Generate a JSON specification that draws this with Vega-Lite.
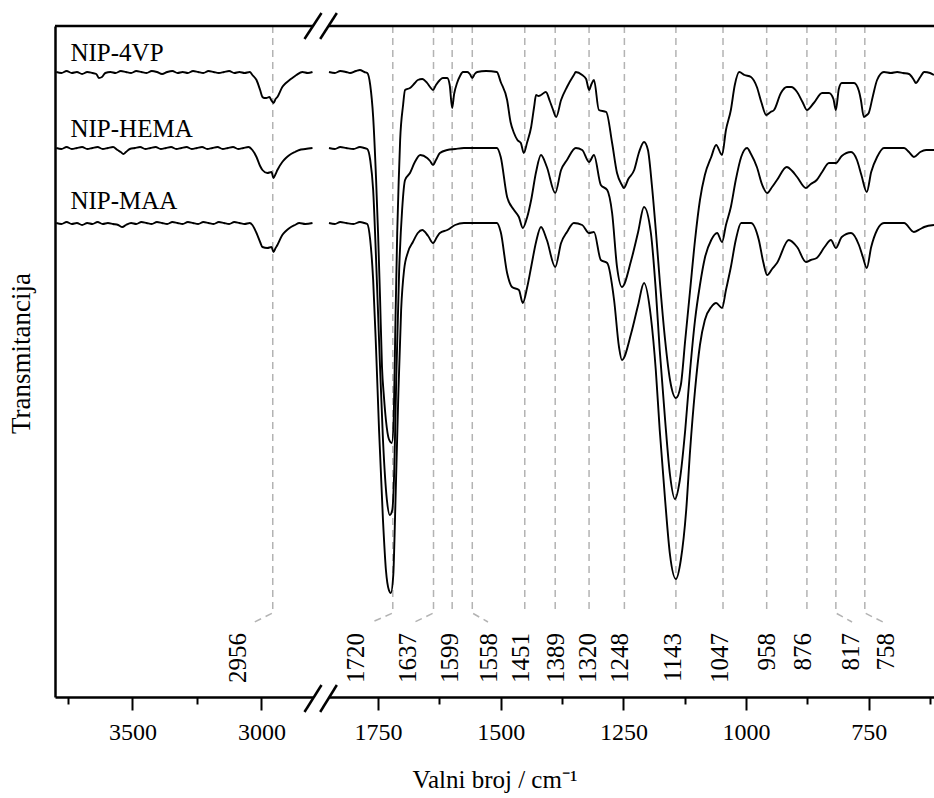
{
  "$schema": "https://vega.github.io/schema/vega-lite/v6.json",
  "width": 879,
  "height": 671,
  "autosize": {"type": "none"},
  "padding": {"left": 55, "top": 26, "right": 0, "bottom": 101},
  "config": {"view": {"stroke": null}, "font": "Liberation Serif", "background": "white"},
  "datasets": {
    "left": [
      {"s":"NIP-4VP","w":3795,"v":625},{"s":"NIP-4VP","w":3775,"v":624},{"s":"NIP-4VP","w":3755,"v":626},{"s":"NIP-4VP","w":3735,"v":624},{"s":"NIP-4VP","w":3715,"v":625},{"s":"NIP-4VP","w":3695,"v":623},{"s":"NIP-4VP","w":3675,"v":625},{"s":"NIP-4VP","w":3655,"v":624},{"s":"NIP-4VP","w":3640,"v":623},{"s":"NIP-4VP","w":3630,"v":619},{"s":"NIP-4VP","w":3618,"v":620},{"s":"NIP-4VP","w":3605,"v":624},{"s":"NIP-4VP","w":3585,"v":625},{"s":"NIP-4VP","w":3565,"v":624},{"s":"NIP-4VP","w":3545,"v":626},{"s":"NIP-4VP","w":3525,"v":625},{"s":"NIP-4VP","w":3505,"v":624},{"s":"NIP-4VP","w":3485,"v":626},{"s":"NIP-4VP","w":3465,"v":625},{"s":"NIP-4VP","w":3445,"v":624},{"s":"NIP-4VP","w":3425,"v":626},{"s":"NIP-4VP","w":3405,"v":625},{"s":"NIP-4VP","w":3385,"v":623},{"s":"NIP-4VP","w":3365,"v":625},{"s":"NIP-4VP","w":3345,"v":626},{"s":"NIP-4VP","w":3325,"v":624},{"s":"NIP-4VP","w":3305,"v":625},{"s":"NIP-4VP","w":3285,"v":624},{"s":"NIP-4VP","w":3265,"v":626},{"s":"NIP-4VP","w":3245,"v":625},{"s":"NIP-4VP","w":3225,"v":624},{"s":"NIP-4VP","w":3205,"v":626},{"s":"NIP-4VP","w":3185,"v":625},{"s":"NIP-4VP","w":3165,"v":624},{"s":"NIP-4VP","w":3145,"v":625},{"s":"NIP-4VP","w":3125,"v":626},{"s":"NIP-4VP","w":3105,"v":624},{"s":"NIP-4VP","w":3085,"v":625},{"s":"NIP-4VP","w":3065,"v":624},{"s":"NIP-4VP","w":3045,"v":625},{"s":"NIP-4VP","w":3035,"v":622},{"s":"NIP-4VP","w":3019,"v":617},{"s":"NIP-4VP","w":3005,"v":607},{"s":"NIP-4VP","w":2996,"v":600},{"s":"NIP-4VP","w":2988,"v":599},{"s":"NIP-4VP","w":2981,"v":599},{"s":"NIP-4VP","w":2969,"v":600},{"s":"NIP-4VP","w":2962,"v":597},{"s":"NIP-4VP","w":2953,"v":594},{"s":"NIP-4VP","w":2945,"v":598},{"s":"NIP-4VP","w":2938,"v":600},{"s":"NIP-4VP","w":2919,"v":610},{"s":"NIP-4VP","w":2905,"v":614},{"s":"NIP-4VP","w":2891,"v":617},{"s":"NIP-4VP","w":2875,"v":620},{"s":"NIP-4VP","w":2864,"v":622},{"s":"NIP-4VP","w":2841,"v":625},{"s":"NIP-4VP","w":2820,"v":624},{"s":"NIP-4VP","w":2802,"v":625},
      {"s":"NIP-HEMA","w":3795,"v":549},{"s":"NIP-HEMA","w":3775,"v":548},{"s":"NIP-HEMA","w":3755,"v":550},{"s":"NIP-HEMA","w":3735,"v":548},{"s":"NIP-HEMA","w":3715,"v":549},{"s":"NIP-HEMA","w":3695,"v":550},{"s":"NIP-HEMA","w":3675,"v":548},{"s":"NIP-HEMA","w":3655,"v":549},{"s":"NIP-HEMA","w":3635,"v":550},{"s":"NIP-HEMA","w":3615,"v":548},{"s":"NIP-HEMA","w":3595,"v":549},{"s":"NIP-HEMA","w":3575,"v":550},{"s":"NIP-HEMA","w":3558,"v":547},{"s":"NIP-HEMA","w":3545,"v":545},{"s":"NIP-HEMA","w":3535,"v":543},{"s":"NIP-HEMA","w":3525,"v":545},{"s":"NIP-HEMA","w":3510,"v":548},{"s":"NIP-HEMA","w":3490,"v":549},{"s":"NIP-HEMA","w":3470,"v":550},{"s":"NIP-HEMA","w":3450,"v":548},{"s":"NIP-HEMA","w":3430,"v":549},{"s":"NIP-HEMA","w":3410,"v":550},{"s":"NIP-HEMA","w":3390,"v":548},{"s":"NIP-HEMA","w":3370,"v":549},{"s":"NIP-HEMA","w":3350,"v":550},{"s":"NIP-HEMA","w":3330,"v":548},{"s":"NIP-HEMA","w":3310,"v":549},{"s":"NIP-HEMA","w":3290,"v":550},{"s":"NIP-HEMA","w":3270,"v":548},{"s":"NIP-HEMA","w":3250,"v":549},{"s":"NIP-HEMA","w":3230,"v":550},{"s":"NIP-HEMA","w":3210,"v":548},{"s":"NIP-HEMA","w":3190,"v":549},{"s":"NIP-HEMA","w":3170,"v":550},{"s":"NIP-HEMA","w":3150,"v":548},{"s":"NIP-HEMA","w":3130,"v":549},{"s":"NIP-HEMA","w":3110,"v":550},{"s":"NIP-HEMA","w":3090,"v":548},{"s":"NIP-HEMA","w":3070,"v":549},{"s":"NIP-HEMA","w":3050,"v":550},{"s":"NIP-HEMA","w":3035,"v":547},{"s":"NIP-HEMA","w":3019,"v":540},{"s":"NIP-HEMA","w":3005,"v":531},{"s":"NIP-HEMA","w":2996,"v":527},{"s":"NIP-HEMA","w":2977,"v":524},{"s":"NIP-HEMA","w":2961,"v":525},{"s":"NIP-HEMA","w":2953,"v":519},{"s":"NIP-HEMA","w":2945,"v":523},{"s":"NIP-HEMA","w":2938,"v":527},{"s":"NIP-HEMA","w":2919,"v":535},{"s":"NIP-HEMA","w":2905,"v":539},{"s":"NIP-HEMA","w":2891,"v":542},{"s":"NIP-HEMA","w":2870,"v":545},{"s":"NIP-HEMA","w":2853,"v":547},{"s":"NIP-HEMA","w":2830,"v":548},{"s":"NIP-HEMA","w":2802,"v":549},
      {"s":"NIP-MAA","w":3795,"v":474},{"s":"NIP-MAA","w":3775,"v":473},{"s":"NIP-MAA","w":3755,"v":475},{"s":"NIP-MAA","w":3735,"v":473},{"s":"NIP-MAA","w":3715,"v":474},{"s":"NIP-MAA","w":3695,"v":472},{"s":"NIP-MAA","w":3675,"v":474},{"s":"NIP-MAA","w":3655,"v":473},{"s":"NIP-MAA","w":3635,"v":475},{"s":"NIP-MAA","w":3615,"v":473},{"s":"NIP-MAA","w":3595,"v":474},{"s":"NIP-MAA","w":3575,"v":473},{"s":"NIP-MAA","w":3555,"v":472},{"s":"NIP-MAA","w":3539,"v":470},{"s":"NIP-MAA","w":3525,"v":472},{"s":"NIP-MAA","w":3505,"v":474},{"s":"NIP-MAA","w":3485,"v":473},{"s":"NIP-MAA","w":3465,"v":475},{"s":"NIP-MAA","w":3445,"v":474},{"s":"NIP-MAA","w":3425,"v":473},{"s":"NIP-MAA","w":3405,"v":475},{"s":"NIP-MAA","w":3385,"v":474},{"s":"NIP-MAA","w":3365,"v":473},{"s":"NIP-MAA","w":3345,"v":475},{"s":"NIP-MAA","w":3325,"v":474},{"s":"NIP-MAA","w":3305,"v":473},{"s":"NIP-MAA","w":3285,"v":475},{"s":"NIP-MAA","w":3265,"v":474},{"s":"NIP-MAA","w":3245,"v":473},{"s":"NIP-MAA","w":3225,"v":475},{"s":"NIP-MAA","w":3205,"v":474},{"s":"NIP-MAA","w":3185,"v":473},{"s":"NIP-MAA","w":3165,"v":475},{"s":"NIP-MAA","w":3145,"v":474},{"s":"NIP-MAA","w":3125,"v":473},{"s":"NIP-MAA","w":3105,"v":475},{"s":"NIP-MAA","w":3085,"v":474},{"s":"NIP-MAA","w":3065,"v":473},{"s":"NIP-MAA","w":3045,"v":474},{"s":"NIP-MAA","w":3035,"v":472},{"s":"NIP-MAA","w":3019,"v":464},{"s":"NIP-MAA","w":3005,"v":455},{"s":"NIP-MAA","w":2996,"v":450},{"s":"NIP-MAA","w":2977,"v":449},{"s":"NIP-MAA","w":2961,"v":450},{"s":"NIP-MAA","w":2953,"v":445},{"s":"NIP-MAA","w":2945,"v":449},{"s":"NIP-MAA","w":2938,"v":452},{"s":"NIP-MAA","w":2919,"v":462},{"s":"NIP-MAA","w":2905,"v":466},{"s":"NIP-MAA","w":2891,"v":469},{"s":"NIP-MAA","w":2870,"v":472},{"s":"NIP-MAA","w":2853,"v":474},{"s":"NIP-MAA","w":2830,"v":473},{"s":"NIP-MAA","w":2802,"v":474}
    ],
    "right": [
      {"s":"NIP-4VP","w":1850,"v":625},{"s":"NIP-4VP","w":1838,"v":624},{"s":"NIP-4VP","w":1827,"v":626},{"s":"NIP-4VP","w":1815,"v":625},{"s":"NIP-4VP","w":1807,"v":624},{"s":"NIP-4VP","w":1795,"v":626},{"s":"NIP-4VP","w":1787,"v":627},{"s":"NIP-4VP","w":1778,"v":625},{"s":"NIP-4VP","w":1772,"v":624},{"s":"NIP-4VP","w":1766,"v":612},{"s":"NIP-4VP","w":1760,"v":580},{"s":"NIP-4VP","w":1754,"v":517},{"s":"NIP-4VP","w":1750,"v":464},{"s":"NIP-4VP","w":1746,"v":400},{"s":"NIP-4VP","w":1742,"v":330},{"s":"NIP-4VP","w":1738,"v":300},{"s":"NIP-4VP","w":1734,"v":277},{"s":"NIP-4VP","w":1728,"v":258},{"s":"NIP-4VP","w":1722,"v":254},{"s":"NIP-4VP","w":1718,"v":280},{"s":"NIP-4VP","w":1715,"v":364},{"s":"NIP-4VP","w":1711,"v":464},{"s":"NIP-4VP","w":1708,"v":515},{"s":"NIP-4VP","w":1705,"v":557},{"s":"NIP-4VP","w":1699,"v":592},{"s":"NIP-4VP","w":1695,"v":607},{"s":"NIP-4VP","w":1685,"v":609},{"s":"NIP-4VP","w":1675,"v":614},{"s":"NIP-4VP","w":1669,"v":617},{"s":"NIP-4VP","w":1660,"v":618},{"s":"NIP-4VP","w":1650,"v":614},{"s":"NIP-4VP","w":1644,"v":610},{"s":"NIP-4VP","w":1638,"v":607},{"s":"NIP-4VP","w":1632,"v":612},{"s":"NIP-4VP","w":1624,"v":617},{"s":"NIP-4VP","w":1618,"v":619},{"s":"NIP-4VP","w":1609,"v":619},{"s":"NIP-4VP","w":1604,"v":612},{"s":"NIP-4VP","w":1599,"v":589},{"s":"NIP-4VP","w":1595,"v":603},{"s":"NIP-4VP","w":1589,"v":614},{"s":"NIP-4VP","w":1583,"v":621},{"s":"NIP-4VP","w":1577,"v":625},{"s":"NIP-4VP","w":1568,"v":625},{"s":"NIP-4VP","w":1563,"v":623},{"s":"NIP-4VP","w":1558,"v":619},{"s":"NIP-4VP","w":1553,"v":623},{"s":"NIP-4VP","w":1548,"v":625},{"s":"NIP-4VP","w":1530,"v":626},{"s":"NIP-4VP","w":1508,"v":625},{"s":"NIP-4VP","w":1500,"v":615},{"s":"NIP-4VP","w":1487,"v":597},{"s":"NIP-4VP","w":1480,"v":575},{"s":"NIP-4VP","w":1473,"v":564},{"s":"NIP-4VP","w":1466,"v":557},{"s":"NIP-4VP","w":1459,"v":554},{"s":"NIP-4VP","w":1453,"v":544},{"s":"NIP-4VP","w":1446,"v":555},{"s":"NIP-4VP","w":1438,"v":570},{"s":"NIP-4VP","w":1432,"v":590},{"s":"NIP-4VP","w":1428,"v":602},{"s":"NIP-4VP","w":1423,"v":601},{"s":"NIP-4VP","w":1418,"v":602},{"s":"NIP-4VP","w":1408,"v":605},{"s":"NIP-4VP","w":1400,"v":596},{"s":"NIP-4VP","w":1394,"v":588},{"s":"NIP-4VP","w":1387,"v":580},{"s":"NIP-4VP","w":1377,"v":597},{"s":"NIP-4VP","w":1365,"v":610},{"s":"NIP-4VP","w":1351,"v":622},{"s":"NIP-4VP","w":1347,"v":625},{"s":"NIP-4VP","w":1334,"v":622},{"s":"NIP-4VP","w":1326,"v":618},{"s":"NIP-4VP","w":1320,"v":607},{"s":"NIP-4VP","w":1315,"v":613},{"s":"NIP-4VP","w":1310,"v":617},{"s":"NIP-4VP","w":1300,"v":587},{"s":"NIP-4VP","w":1285,"v":585},{"s":"NIP-4VP","w":1273,"v":554},{"s":"NIP-4VP","w":1263,"v":524},{"s":"NIP-4VP","w":1253,"v":512},{"s":"NIP-4VP","w":1249,"v":509},{"s":"NIP-4VP","w":1240,"v":518},{"s":"NIP-4VP","w":1228,"v":527},{"s":"NIP-4VP","w":1218,"v":545},{"s":"NIP-4VP","w":1208,"v":555},{"s":"NIP-4VP","w":1200,"v":547},{"s":"NIP-4VP","w":1192,"v":512},{"s":"NIP-4VP","w":1184,"v":467},{"s":"NIP-4VP","w":1176,"v":417},{"s":"NIP-4VP","w":1165,"v":357},{"s":"NIP-4VP","w":1155,"v":317},{"s":"NIP-4VP","w":1143,"v":299},{"s":"NIP-4VP","w":1133,"v":312},{"s":"NIP-4VP","w":1124,"v":357},{"s":"NIP-4VP","w":1114,"v":407},{"s":"NIP-4VP","w":1104,"v":457},{"s":"NIP-4VP","w":1094,"v":497},{"s":"NIP-4VP","w":1084,"v":522},{"s":"NIP-4VP","w":1071,"v":540},{"s":"NIP-4VP","w":1061,"v":552},{"s":"NIP-4VP","w":1049,"v":542},{"s":"NIP-4VP","w":1041,"v":567},{"s":"NIP-4VP","w":1031,"v":587},{"s":"NIP-4VP","w":1023,"v":612},{"s":"NIP-4VP","w":1014,"v":625},{"s":"NIP-4VP","w":1003,"v":622},{"s":"NIP-4VP","w":990,"v":620},{"s":"NIP-4VP","w":978,"v":610},{"s":"NIP-4VP","w":969,"v":595},{"s":"NIP-4VP","w":959,"v":582},{"s":"NIP-4VP","w":950,"v":585},{"s":"NIP-4VP","w":943,"v":587},{"s":"NIP-4VP","w":929,"v":604},{"s":"NIP-4VP","w":917,"v":610},{"s":"NIP-4VP","w":908,"v":610},{"s":"NIP-4VP","w":896,"v":605},{"s":"NIP-4VP","w":885,"v":595},{"s":"NIP-4VP","w":876,"v":587},{"s":"NIP-4VP","w":862,"v":594},{"s":"NIP-4VP","w":845,"v":604},{"s":"NIP-4VP","w":831,"v":604},{"s":"NIP-4VP","w":822,"v":598},{"s":"NIP-4VP","w":817,"v":587},{"s":"NIP-4VP","w":811,"v":608},{"s":"NIP-4VP","w":805,"v":614},{"s":"NIP-4VP","w":786,"v":614},{"s":"NIP-4VP","w":780,"v":614},{"s":"NIP-4VP","w":770,"v":606},{"s":"NIP-4VP","w":766,"v":597},{"s":"NIP-4VP","w":760,"v":580},{"s":"NIP-4VP","w":754,"v":582},{"s":"NIP-4VP","w":750,"v":584},{"s":"NIP-4VP","w":742,"v":600},{"s":"NIP-4VP","w":733,"v":617},{"s":"NIP-4VP","w":719,"v":625},{"s":"NIP-4VP","w":705,"v":624},{"s":"NIP-4VP","w":692,"v":625},{"s":"NIP-4VP","w":680,"v":624},{"s":"NIP-4VP","w":668,"v":623},{"s":"NIP-4VP","w":658,"v":617},{"s":"NIP-4VP","w":654,"v":614},{"s":"NIP-4VP","w":645,"v":620},{"s":"NIP-4VP","w":637,"v":625},{"s":"NIP-4VP","w":625,"v":624},{"s":"NIP-4VP","w":617,"v":622},
      {"s":"NIP-HEMA","w":1850,"v":549},{"s":"NIP-HEMA","w":1838,"v":548},{"s":"NIP-HEMA","w":1827,"v":550},{"s":"NIP-HEMA","w":1815,"v":549},{"s":"NIP-HEMA","w":1800,"v":548},{"s":"NIP-HEMA","w":1787,"v":550},{"s":"NIP-HEMA","w":1778,"v":549},{"s":"NIP-HEMA","w":1772,"v":548},{"s":"NIP-HEMA","w":1766,"v":537},{"s":"NIP-HEMA","w":1760,"v":507},{"s":"NIP-HEMA","w":1754,"v":437},{"s":"NIP-HEMA","w":1748,"v":357},{"s":"NIP-HEMA","w":1740,"v":257},{"s":"NIP-HEMA","w":1732,"v":197},{"s":"NIP-HEMA","w":1726,"v":182},{"s":"NIP-HEMA","w":1721,"v":187},{"s":"NIP-HEMA","w":1717,"v":227},{"s":"NIP-HEMA","w":1713,"v":317},{"s":"NIP-HEMA","w":1707,"v":427},{"s":"NIP-HEMA","w":1701,"v":487},{"s":"NIP-HEMA","w":1695,"v":517},{"s":"NIP-HEMA","w":1685,"v":524},{"s":"NIP-HEMA","w":1675,"v":535},{"s":"NIP-HEMA","w":1664,"v":542},{"s":"NIP-HEMA","w":1650,"v":539},{"s":"NIP-HEMA","w":1644,"v":536},{"s":"NIP-HEMA","w":1638,"v":532},{"s":"NIP-HEMA","w":1632,"v":537},{"s":"NIP-HEMA","w":1624,"v":544},{"s":"NIP-HEMA","w":1609,"v":547},{"s":"NIP-HEMA","w":1593,"v":548},{"s":"NIP-HEMA","w":1575,"v":549},{"s":"NIP-HEMA","w":1540,"v":549},{"s":"NIP-HEMA","w":1508,"v":549},{"s":"NIP-HEMA","w":1500,"v":540},{"s":"NIP-HEMA","w":1487,"v":500},{"s":"NIP-HEMA","w":1473,"v":487},{"s":"NIP-HEMA","w":1463,"v":480},{"s":"NIP-HEMA","w":1455,"v":469},{"s":"NIP-HEMA","w":1446,"v":480},{"s":"NIP-HEMA","w":1438,"v":497},{"s":"NIP-HEMA","w":1428,"v":525},{"s":"NIP-HEMA","w":1418,"v":542},{"s":"NIP-HEMA","w":1406,"v":530},{"s":"NIP-HEMA","w":1389,"v":504},{"s":"NIP-HEMA","w":1377,"v":527},{"s":"NIP-HEMA","w":1365,"v":537},{"s":"NIP-HEMA","w":1347,"v":549},{"s":"NIP-HEMA","w":1334,"v":547},{"s":"NIP-HEMA","w":1320,"v":535},{"s":"NIP-HEMA","w":1310,"v":542},{"s":"NIP-HEMA","w":1296,"v":512},{"s":"NIP-HEMA","w":1283,"v":507},{"s":"NIP-HEMA","w":1273,"v":484},{"s":"NIP-HEMA","w":1263,"v":430},{"s":"NIP-HEMA","w":1253,"v":410},{"s":"NIP-HEMA","w":1234,"v":437},{"s":"NIP-HEMA","w":1220,"v":465},{"s":"NIP-HEMA","w":1208,"v":490},{"s":"NIP-HEMA","w":1194,"v":464},{"s":"NIP-HEMA","w":1184,"v":407},{"s":"NIP-HEMA","w":1176,"v":347},{"s":"NIP-HEMA","w":1165,"v":277},{"s":"NIP-HEMA","w":1155,"v":222},{"s":"NIP-HEMA","w":1145,"v":198},{"s":"NIP-HEMA","w":1135,"v":217},{"s":"NIP-HEMA","w":1124,"v":267},{"s":"NIP-HEMA","w":1114,"v":327},{"s":"NIP-HEMA","w":1104,"v":377},{"s":"NIP-HEMA","w":1094,"v":412},{"s":"NIP-HEMA","w":1084,"v":439},{"s":"NIP-HEMA","w":1071,"v":457},{"s":"NIP-HEMA","w":1059,"v":464},{"s":"NIP-HEMA","w":1049,"v":455},{"s":"NIP-HEMA","w":1041,"v":472},{"s":"NIP-HEMA","w":1031,"v":490},{"s":"NIP-HEMA","w":1021,"v":517},{"s":"NIP-HEMA","w":1010,"v":540},{"s":"NIP-HEMA","w":998,"v":549},{"s":"NIP-HEMA","w":990,"v":543},{"s":"NIP-HEMA","w":978,"v":530},{"s":"NIP-HEMA","w":967,"v":512},{"s":"NIP-HEMA","w":957,"v":504},{"s":"NIP-HEMA","w":947,"v":510},{"s":"NIP-HEMA","w":937,"v":517},{"s":"NIP-HEMA","w":917,"v":530},{"s":"NIP-HEMA","w":906,"v":526},{"s":"NIP-HEMA","w":896,"v":520},{"s":"NIP-HEMA","w":878,"v":509},{"s":"NIP-HEMA","w":868,"v":513},{"s":"NIP-HEMA","w":856,"v":517},{"s":"NIP-HEMA","w":845,"v":525},{"s":"NIP-HEMA","w":831,"v":534},{"s":"NIP-HEMA","w":817,"v":534},{"s":"NIP-HEMA","w":805,"v":541},{"s":"NIP-HEMA","w":786,"v":545},{"s":"NIP-HEMA","w":774,"v":537},{"s":"NIP-HEMA","w":765,"v":522},{"s":"NIP-HEMA","w":754,"v":505},{"s":"NIP-HEMA","w":745,"v":525},{"s":"NIP-HEMA","w":733,"v":540},{"s":"NIP-HEMA","w":719,"v":549},{"s":"NIP-HEMA","w":700,"v":549},{"s":"NIP-HEMA","w":678,"v":549},{"s":"NIP-HEMA","w":668,"v":545},{"s":"NIP-HEMA","w":658,"v":540},{"s":"NIP-HEMA","w":645,"v":545},{"s":"NIP-HEMA","w":633,"v":547},{"s":"NIP-HEMA","w":617,"v":547},
      {"s":"NIP-MAA","w":1850,"v":474},{"s":"NIP-MAA","w":1838,"v":473},{"s":"NIP-MAA","w":1827,"v":475},{"s":"NIP-MAA","w":1815,"v":474},{"s":"NIP-MAA","w":1800,"v":473},{"s":"NIP-MAA","w":1787,"v":475},{"s":"NIP-MAA","w":1778,"v":474},{"s":"NIP-MAA","w":1772,"v":473},{"s":"NIP-MAA","w":1766,"v":457},{"s":"NIP-MAA","w":1760,"v":417},{"s":"NIP-MAA","w":1754,"v":347},{"s":"NIP-MAA","w":1748,"v":267},{"s":"NIP-MAA","w":1740,"v":177},{"s":"NIP-MAA","w":1734,"v":127},{"s":"NIP-MAA","w":1728,"v":107},{"s":"NIP-MAA","w":1724,"v":104},{"s":"NIP-MAA","w":1719,"v":122},{"s":"NIP-MAA","w":1715,"v":187},{"s":"NIP-MAA","w":1709,"v":297},{"s":"NIP-MAA","w":1703,"v":387},{"s":"NIP-MAA","w":1697,"v":427},{"s":"NIP-MAA","w":1689,"v":445},{"s":"NIP-MAA","w":1679,"v":455},{"s":"NIP-MAA","w":1669,"v":464},{"s":"NIP-MAA","w":1660,"v":467},{"s":"NIP-MAA","w":1648,"v":461},{"s":"NIP-MAA","w":1638,"v":454},{"s":"NIP-MAA","w":1630,"v":460},{"s":"NIP-MAA","w":1624,"v":464},{"s":"NIP-MAA","w":1609,"v":467},{"s":"NIP-MAA","w":1593,"v":472},{"s":"NIP-MAA","w":1575,"v":474},{"s":"NIP-MAA","w":1540,"v":474},{"s":"NIP-MAA","w":1508,"v":474},{"s":"NIP-MAA","w":1500,"v":465},{"s":"NIP-MAA","w":1487,"v":424},{"s":"NIP-MAA","w":1477,"v":410},{"s":"NIP-MAA","w":1463,"v":407},{"s":"NIP-MAA","w":1455,"v":394},{"s":"NIP-MAA","w":1446,"v":410},{"s":"NIP-MAA","w":1438,"v":430},{"s":"NIP-MAA","w":1428,"v":455},{"s":"NIP-MAA","w":1418,"v":470},{"s":"NIP-MAA","w":1406,"v":457},{"s":"NIP-MAA","w":1389,"v":430},{"s":"NIP-MAA","w":1377,"v":454},{"s":"NIP-MAA","w":1365,"v":465},{"s":"NIP-MAA","w":1351,"v":474},{"s":"NIP-MAA","w":1334,"v":472},{"s":"NIP-MAA","w":1320,"v":464},{"s":"NIP-MAA","w":1310,"v":465},{"s":"NIP-MAA","w":1296,"v":437},{"s":"NIP-MAA","w":1283,"v":434},{"s":"NIP-MAA","w":1269,"v":397},{"s":"NIP-MAA","w":1259,"v":350},{"s":"NIP-MAA","w":1253,"v":337},{"s":"NIP-MAA","w":1234,"v":364},{"s":"NIP-MAA","w":1220,"v":392},{"s":"NIP-MAA","w":1208,"v":414},{"s":"NIP-MAA","w":1194,"v":380},{"s":"NIP-MAA","w":1184,"v":327},{"s":"NIP-MAA","w":1176,"v":267},{"s":"NIP-MAA","w":1165,"v":197},{"s":"NIP-MAA","w":1155,"v":142},{"s":"NIP-MAA","w":1143,"v":118},{"s":"NIP-MAA","w":1133,"v":137},{"s":"NIP-MAA","w":1122,"v":187},{"s":"NIP-MAA","w":1114,"v":247},{"s":"NIP-MAA","w":1104,"v":307},{"s":"NIP-MAA","w":1094,"v":352},{"s":"NIP-MAA","w":1084,"v":377},{"s":"NIP-MAA","w":1071,"v":390},{"s":"NIP-MAA","w":1061,"v":394},{"s":"NIP-MAA","w":1049,"v":389},{"s":"NIP-MAA","w":1041,"v":407},{"s":"NIP-MAA","w":1031,"v":430},{"s":"NIP-MAA","w":1021,"v":457},{"s":"NIP-MAA","w":1010,"v":474},{"s":"NIP-MAA","w":990,"v":474},{"s":"NIP-MAA","w":974,"v":457},{"s":"NIP-MAA","w":965,"v":435},{"s":"NIP-MAA","w":957,"v":422},{"s":"NIP-MAA","w":947,"v":428},{"s":"NIP-MAA","w":937,"v":434},{"s":"NIP-MAA","w":913,"v":457},{"s":"NIP-MAA","w":896,"v":450},{"s":"NIP-MAA","w":878,"v":435},{"s":"NIP-MAA","w":868,"v":437},{"s":"NIP-MAA","w":856,"v":439},{"s":"NIP-MAA","w":840,"v":450},{"s":"NIP-MAA","w":827,"v":457},{"s":"NIP-MAA","w":817,"v":449},{"s":"NIP-MAA","w":805,"v":460},{"s":"NIP-MAA","w":786,"v":464},{"s":"NIP-MAA","w":770,"v":452},{"s":"NIP-MAA","w":762,"v":440},{"s":"NIP-MAA","w":754,"v":429},{"s":"NIP-MAA","w":745,"v":450},{"s":"NIP-MAA","w":733,"v":467},{"s":"NIP-MAA","w":719,"v":474},{"s":"NIP-MAA","w":700,"v":474},{"s":"NIP-MAA","w":678,"v":474},{"s":"NIP-MAA","w":658,"v":465},{"s":"NIP-MAA","w":645,"v":468},{"s":"NIP-MAA","w":637,"v":470},{"s":"NIP-MAA","w":617,"v":472}
    ],
    "dashL": [
      {"pk":"2956","o":0,"w":2956,"v":671},{"pk":"2956","o":1,"w":2956,"v":84},{"pk":"2956","o":2,"w":3027,"v":75}
    ],
    "dashR": [
      {"pk":"1720","o":0,"w":1720,"v":671},{"pk":"1720","o":1,"w":1720,"v":84},{"pk":"1720","o":2,"w":1762,"v":75},
      {"pk":"1637","o":0,"w":1637,"v":671},{"pk":"1637","o":1,"w":1637,"v":84},{"pk":"1637","o":2,"w":1675,"v":75},
      {"pk":"1599","o":0,"w":1599,"v":671},{"pk":"1599","o":1,"w":1599,"v":84},
      {"pk":"1558","o":0,"w":1558,"v":671},{"pk":"1558","o":1,"w":1558,"v":84},{"pk":"1558","o":2,"w":1526,"v":75},
      {"pk":"1451","o":0,"w":1451,"v":671},{"pk":"1451","o":1,"w":1451,"v":84},
      {"pk":"1389","o":0,"w":1389,"v":671},{"pk":"1389","o":1,"w":1389,"v":84},
      {"pk":"1320","o":0,"w":1320,"v":671},{"pk":"1320","o":1,"w":1320,"v":84},
      {"pk":"1248","o":0,"w":1248,"v":671},{"pk":"1248","o":1,"w":1248,"v":84},
      {"pk":"1143","o":0,"w":1143,"v":671},{"pk":"1143","o":1,"w":1143,"v":84},
      {"pk":"1047","o":0,"w":1047,"v":671},{"pk":"1047","o":1,"w":1047,"v":84},
      {"pk":"958","o":0,"w":958,"v":671},{"pk":"958","o":1,"w":958,"v":84},
      {"pk":"876","o":0,"w":876,"v":671},{"pk":"876","o":1,"w":876,"v":84},
      {"pk":"817","o":0,"w":817,"v":671},{"pk":"817","o":1,"w":817,"v":84},{"pk":"817","o":2,"w":784,"v":75},
      {"pk":"758","o":0,"w":758,"v":671},{"pk":"758","o":1,"w":758,"v":84},{"pk":"758","o":2,"w":721,"v":75}
    ],
    "labL": [{"t":"2956","w":3089,"v":64}],
    "labR": [
      {"t":"1720","w":1794,"v":64},{"t":"1637","w":1690,"v":64},{"t":"1599","w":1603,"v":64},{"t":"1558","w":1524,"v":64},
      {"t":"1451","w":1459,"v":64},{"t":"1389","w":1388,"v":64},{"t":"1320","w":1323,"v":64},{"t":"1248","w":1256,"v":64},
      {"t":"1143","w":1149,"v":64},{"t":"1047","w":1053,"v":64},{"t":"958","w":958,"v":64},{"t":"876","w":884,"v":64},
      {"t":"817","w":787,"v":64},{"t":"758","w":715,"v":64}
    ],
    "names": [
      {"s":"NIP-4VP","w":3740,"v":644},{"s":"NIP-HEMA","w":3740,"v":568},{"s":"NIP-MAA","w":3740,"v":496}
    ],
    "slashL": [{"w":2833,"w2":2767,"v":658,"v2":684},{"w":2833,"w2":2767,"v":-15,"v2":12}],
    "slashR": [{"w":1868,"w2":1834,"v":658,"v2":684},{"w":1868,"w2":1834,"v":-15,"v2":12}],
    "frameL": [{"w":3800,"w2":2800,"v":671}],
    "frameR": [{"w":1850,"w2":617,"v":671}]
  },
  "encoding": {
    "y": {
      "field": "v", "type": "quantitative",
      "scale": {"domain": [0, 671], "nice": false, "zero": false},
      "axis": {
        "title": "Transmitancija", "ticks": false, "labels": false, "grid": false,
        "domainColor": "black", "domainWidth": 2.5,
        "titleFont": "Liberation Serif", "titleFontSize": 27, "titleFontWeight": "normal",
        "titleColor": "black", "titlePadding": 20, "titleY": 327
      }
    }
  },
  "layer": [
    {
      "encoding": {
        "x": {
          "field": "w", "type": "quantitative",
          "scale": {"domain": [3800, 2800], "range": [0, 258], "nice": false, "zero": false},
          "axis": {
            "orient": "bottom", "title": null, "grid": false,
            "values": [3750, 3500, 3250, 3000], "format": "d",
            "labelExpr": "datum.value % 500 === 0 ? datum.label : ''",
            "domainColor": "black", "domainWidth": 2.5,
            "tickColor": "black", "tickWidth": 2,
            "tickSize": {"condition": {"test": "datum.value % 500 === 0", "value": 13}, "value": 7},
            "labelFont": "Liberation Serif", "labelFontSize": 24, "labelColor": "black",
            "labelPadding": 10, "labelOverlap": false, "labelFlush": false
          }
        }
      },
      "layer": [
        {
          "data": {"name": "dashL"},
          "mark": {"type": "line", "color": "#b3b3b3", "strokeWidth": 1.5, "strokeDash": [7, 5]},
          "encoding": {"detail": {"field": "pk"}, "order": {"field": "o", "type": "quantitative"}}
        },
        {
          "data": {"name": "left"},
          "mark": {"type": "line", "color": "black", "strokeWidth": 1.9, "interpolate": "monotone"},
          "encoding": {"detail": {"field": "s"}, "order": {"field": "w", "type": "quantitative", "sort": "descending"}}
        },
        {
          "data": {"name": "names"},
          "mark": {"type": "text", "align": "left", "baseline": "middle", "fontSize": 25, "color": "black", "font": "Liberation Serif"},
          "encoding": {"text": {"field": "s"}}
        },
        {
          "data": {"name": "labL"},
          "mark": {"type": "text", "align": "right", "baseline": "middle", "angle": 270, "fontSize": 25, "color": "black", "font": "Liberation Serif"},
          "encoding": {"text": {"field": "t"}}
        },
        {
          "data": {"name": "frameL"},
          "mark": {"type": "rule", "color": "black", "strokeWidth": 2.5},
          "encoding": {"x2": {"field": "w2"}}
        },
        {
          "data": {"name": "slashL"},
          "mark": {"type": "rule", "color": "black", "strokeWidth": 2.5},
          "encoding": {"x2": {"field": "w2"}, "y2": {"field": "v2"}}
        }
      ]
    },
    {
      "encoding": {
        "x": {
          "field": "w", "type": "quantitative",
          "scale": {"domain": [1850, 617], "range": [274, 879], "nice": false, "zero": false},
          "axis": {
            "orient": "bottom", "grid": false,
            "title": "Valni broj / cm⁻¹", "titleX": 439.5, "titleY": 90, "titleBaseline": "alphabetic",
            "titleFont": "Liberation Serif", "titleFontSize": 25, "titleFontWeight": "normal", "titleColor": "black",
            "values": [1750, 1625, 1500, 1375, 1250, 1125, 1000, 875, 750, 625], "format": "d",
            "labelExpr": "datum.value % 250 === 0 ? datum.label : ''",
            "domainColor": "black", "domainWidth": 2.5,
            "tickColor": "black", "tickWidth": 2,
            "tickSize": {"condition": {"test": "datum.value % 250 === 0", "value": 13}, "value": 7},
            "labelFont": "Liberation Serif", "labelFontSize": 24, "labelColor": "black",
            "labelPadding": 10, "labelOverlap": false, "labelFlush": false
          }
        }
      },
      "layer": [
        {
          "data": {"name": "dashR"},
          "mark": {"type": "line", "color": "#b3b3b3", "strokeWidth": 1.5, "strokeDash": [7, 5]},
          "encoding": {"detail": {"field": "pk"}, "order": {"field": "o", "type": "quantitative"}}
        },
        {
          "data": {"name": "right"},
          "mark": {"type": "line", "color": "black", "strokeWidth": 1.9, "interpolate": "monotone"},
          "encoding": {"detail": {"field": "s"}, "order": {"field": "w", "type": "quantitative", "sort": "descending"}}
        },
        {
          "data": {"name": "labR"},
          "mark": {"type": "text", "align": "right", "baseline": "middle", "angle": 270, "fontSize": 25, "color": "black", "font": "Liberation Serif"},
          "encoding": {"text": {"field": "t"}}
        },
        {
          "data": {"name": "frameR"},
          "mark": {"type": "rule", "color": "black", "strokeWidth": 2.5},
          "encoding": {"x2": {"field": "w2"}}
        },
        {
          "data": {"name": "slashR"},
          "mark": {"type": "rule", "color": "black", "strokeWidth": 2.5},
          "encoding": {"x2": {"field": "w2"}, "y2": {"field": "v2"}}
        }
      ]
    }
  ],
  "resolve": {"scale": {"x": "independent"}, "axis": {"x": "independent"}}
}
